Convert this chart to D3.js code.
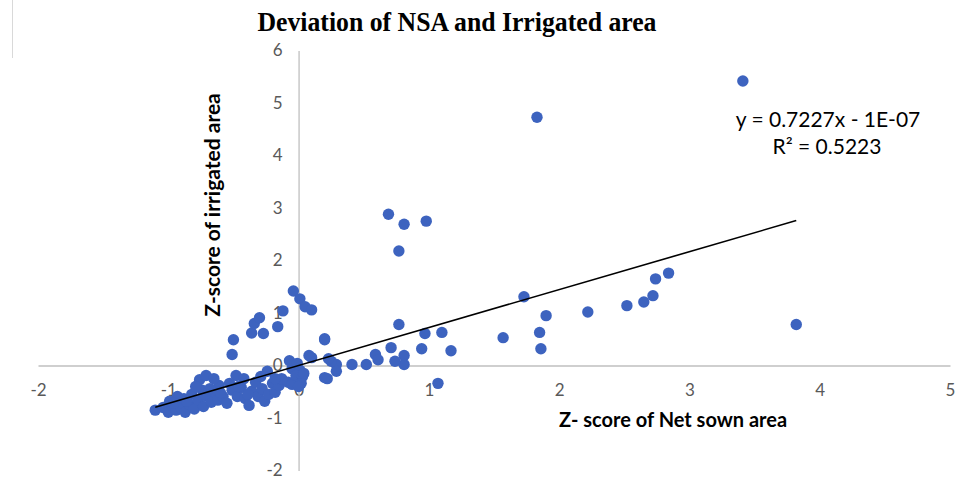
<!DOCTYPE html>
<html>
<head>
<meta charset="utf-8">
<script src="https://cdn.jsdelivr.net/npm/d3@7/dist/d3.min.js"></script>
<style>
  html, body { margin: 0; padding: 0; background: #ffffff; }
  svg { display: block; }
</style>
</head>
<body>
<svg id="chart" width="957" height="480"></svg>
<script>
// ---- Data ----
const xValues = [
  3.41, 1.83, 0.69, 0.81, 0.98, 0.77, -0.04, 0.01, 0.05, 0.10,
  1.73, 2.74, 2.84, 2.72, 2.65, 2.52, 2.22, 1.90, 1.85, 1.86,
  1.57, 3.82, 1.10, 0.97, 0.945, 1.17, 1.07, 0.77, 0.81, 0.81,
  0.74, 0.71, 0.59, 0.61, 0.52, 0.41, 0.29, 0.25, 0.23, 0.20,
  0.22, 0.29,
  -1.10, -1.04, -1.00, -0.97, -0.94, -0.91, -0.90, -0.88, -0.87, -0.84,
  -0.82, -0.80, -0.77, -0.76, -0.74, -0.73, -0.71, -0.70, -0.67, -0.64,
  -0.62, -0.61, -0.58, -0.55, -0.51, -0.48, -0.47, -0.44, -0.41, -0.38,
  -0.36, -0.33, -0.31, -0.28, -0.26, -0.24, -0.23, -0.20, -0.18, -0.15,
  -0.13, -0.18, -0.08, -0.05, -0.05, -0.07, -0.01, 0.01, -0.02, 0.03,
  0.02, 0.00, 0.04, -0.51, -0.50, -0.36, -0.27, -0.34, -0.30, -0.16,
  -0.12, 0.08, 0.10, 0.20, 0.20, -0.65, -0.79, -0.42, -0.53, -0.29,
  -0.68, -0.93, -0.99, -0.96, -0.86, -0.72, -0.60, -0.46, -0.39
];
const yValues = [
  5.42, 4.73, 2.88, 2.69, 2.75, 2.18, 1.42, 1.27, 1.12, 1.06,
  1.31, 1.65, 1.76, 1.33, 1.21, 1.14, 1.02, 0.95, 0.63, 0.32,
  0.53, 0.78, 0.63, 0.61, 0.32, 0.28, -0.34, 0.78, 0.19, 0.02,
  0.08, 0.34, 0.21, 0.11, 0.02, 0.02, 0.02, 0.08, 0.13, 0.51,
  -0.25, -0.11,
  -0.85, -0.80, -0.89, -0.76, -0.85, -0.70, -0.81, -0.63, -0.89, -0.74,
  -0.55, -0.83, -0.66, -0.27, -0.47, -0.78, -0.19, -0.59, -0.70, -0.51,
  -0.66, -0.38, -0.59, -0.72, -0.47, -0.19, -0.59, -0.42, -0.63, -0.76,
  -0.49, -0.32, -0.59, -0.44, -0.68, -0.11, -0.55, -0.34, -0.51, -0.38,
  -0.25, -0.25, -0.32, -0.36, -0.06, 0.09, 0.04, -0.09, -0.19, -0.21,
  -0.34, -0.40, -0.15, 0.21, 0.49, 0.62, 0.61, 0.80, 0.91, 0.74,
  1.04, 0.19, 0.15, 0.49, -0.23, -0.25, -0.40, -0.25, -0.34, -0.21,
  -0.44, -0.59, -0.68, -0.72, -0.68, -0.55, -0.52, -0.40, -0.55
];
const xTicks = [-2, -1, 0, 1, 2, 3, 4, 5];
const yTicks = [-2, -1, 0, 1, 2, 3, 4, 5, 6];
const trendSlope = 0.7227;
const trendIntercept = -1e-7;
const titleText = "Deviation of NSA and Irrigated area";
const xTitle = "Z- score of Net sown area";
const yTitle = "Z-score of irrigated area";
const eqLine1 = "y = 0.7227x - 1E-07";
const eqLine2 = "R² = 0.5223";

// ---- Chart ----
const svg = d3.select("#chart");
const FONT = "Lato, 'Open Sans', 'Liberation Sans', sans-serif";

const x = d3.scaleLinear().domain([-2, 5]).range([38, 950]);
const y = d3.scaleLinear().domain([-2, 6]).range([470.5, 50.5]);

// faint left border artifact
svg.append("line")
  .attr("x1", 12.5).attr("x2", 12.5).attr("y1", 0).attr("y2", 58)
  .attr("stroke", "#d9d9d9").attr("stroke-width", 1);

// axes
const xAxis = d3.axisBottom(x).tickValues(xTicks).tickSize(0).tickPadding(18)
  .tickFormat(d => String(d));
const yAxis = d3.axisLeft(y).tickValues(yTicks).tickSize(0).tickPadding(16)
  .tickFormat(d => String(d));

const gx = svg.append("g").attr("transform", `translate(0,${y(0)})`).call(xAxis);
const gy = svg.append("g").attr("transform", `translate(${x(0)},0)`).call(yAxis);

[gx, gy].forEach(g => {
  g.select(".domain").attr("stroke", "#bfbfbf").attr("stroke-width", 1.3);
  g.selectAll(".tick text")
    .attr("fill", "#595959")
    .style("font-family", FONT)
    .style("font-size", "17px");
});

// points
const pts = xValues.map((v, i) => ({ x: v, y: yValues[i] }));
svg.append("g").selectAll("circle").data(pts).join("circle")
  .attr("cx", d => x(d.x))
  .attr("cy", d => y(d.y))
  .attr("r", 5.7)
  .attr("fill", "#3d63bf");

// trendline
const xExt = d3.extent(xValues);
const line = d3.line().x(d => x(d)).y(d => y(trendSlope * d + trendIntercept));
svg.append("path")
  .datum(xExt)
  .attr("d", line)
  .attr("fill", "none")
  .attr("stroke", "#000000")
  .attr("stroke-width", 1.6);

// title
svg.append("text")
  .attr("x", 457).attr("y", 31)
  .attr("text-anchor", "middle")
  .attr("textLength", 399)
  .attr("lengthAdjust", "spacingAndGlyphs")
  .style("font-family", "'Liberation Serif', 'Times New Roman', serif")
  .style("font-weight", "bold")
  .style("font-size", "27px")
  .attr("fill", "#000")
  .text(titleText);

// axis titles
svg.append("text")
  .attr("x", 673).attr("y", 427)
  .attr("text-anchor", "middle")
  .style("font-family", FONT)
  .style("font-weight", "bold")
  .style("font-size", "20px")
  .attr("fill", "#000")
  .text(xTitle);

svg.append("text")
  .attr("transform", "translate(220,205) rotate(-90)")
  .attr("text-anchor", "middle")
  .style("font-family", FONT)
  .style("font-weight", "bold")
  .style("font-size", "21px")
  .attr("fill", "#000")
  .text(yTitle);

// equation
svg.append("text")
  .attr("x", 828).attr("y", 127)
  .attr("text-anchor", "middle")
  .style("font-family", FONT)
  .style("font-size", "21px")
  .attr("fill", "#000")
  .text(eqLine1);
svg.append("text")
  .attr("x", 827).attr("y", 154)
  .attr("text-anchor", "middle")
  .style("font-family", FONT)
  .style("font-size", "21px")
  .attr("fill", "#000")
  .text(eqLine2);
</script>
</body>
</html>
